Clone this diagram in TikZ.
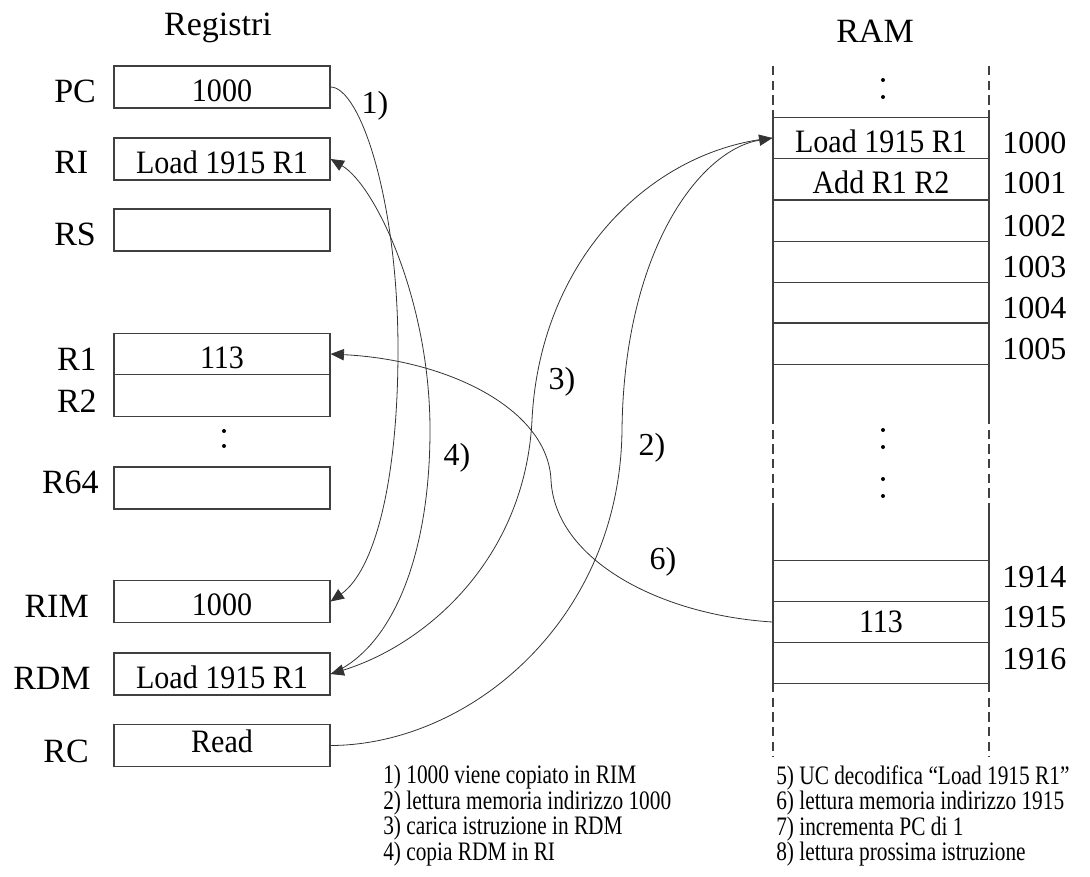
\documentclass[tikz,border=0pt]{standalone}
\usepackage{fontspec}
\setmainfont{Liberation Serif}
\newfontfamily\boxfont{Liberation Serif}[FakeStretch=0.92]
\newfontfamily\notefont{Liberation Serif}[FakeStretch=0.8]
\usetikzlibrary{arrows.meta}

\tikzset{
  reg/.style={draw=black!75, line width=0.9pt, minimum width=162pt, minimum height=31.5pt,
    inner sep=0pt, text height=21pt, text depth=0pt, font=\boxfont\fontsize{24.5}{26}\selectfont},
  cell/.style={reg, minimum height=31pt},
  reglbl/.style={inner sep=0pt, font=\fontsize{25.5}{28}\selectfont},
  numlbl/.style={inner sep=0pt, font=\fontsize{24}{26}\selectfont},
  notes/.style={inner sep=0pt, align=left, font=\notefont\fontsize{20}{18}\selectfont},
  flow/.style={draw=black!80, line width=0.6pt},
  arr/.style={flow, -{Triangle[length=10pt,width=8.5pt]}},
  ramline/.style={draw=black!75, line width=0.9pt},
  ramdash/.style={ramline, dash pattern=on 7pt off 4pt},
  dot/.style={fill=black, circle, inner sep=0pt, minimum size=3pt},
}

\begin{document}
\begin{tikzpicture}[x=0.75pt, y=-0.75pt]
\useasboundingbox (0,0) rectangle (1090,876);

% titles
\node[reglbl, anchor=base] (titleReg) at (218,35) {Registri};
\node[reglbl, anchor=base] (titleRam) at (875,42) {RAM};

% registers
\path
(222,87)    node[reg] (PC)  {1000}
(222,159)   node[reg] (RI)  {Load 1915 R1}
(222,230)   node[reg] (RS)  {}
(222,354)   node[reg, minimum height=31pt] (R1) {113}
(222,395.5) node[reg, minimum height=31pt] (R2) {}
(222,488)   node[reg] (R64) {}
(222,601.5) node[reg] (RIM) {1000}
(222,674)   node[reg] (RDM) {Load 1915 R1}
(222,745.5) node[reg, text height=10pt] (RC) {Read};

\node[reglbl, anchor=base west] (lPC)  at (54,102)  {PC};
\node[reglbl, anchor=base west] (lRI)  at (54,173)  {RI};
\node[reglbl, anchor=base west] (lRS)  at (54,245)  {RS};
\node[reglbl, anchor=base east] (lR1)  at (97,370)  {R1};
\node[reglbl, anchor=base east] (lR2)  at (97,412)  {R2};
\node[reglbl, anchor=base east] (lR64) at (99,493)  {R64};
\node[reglbl, anchor=base east] (lRIM) at (89,617)  {RIM};
\node[reglbl, anchor=base east] (lRDM) at (91,689)  {RDM};
\node[reglbl, anchor=base east] (lRC)  at (89,762)  {RC};

\node[dot] (rd1) at (224,431) {};
\node[dot] (rd2) at (224,446) {};

% RAM cells
\path
(881,138)   node[cell] (m1000) {Load 1915 R1}
(881,179.5) node[cell] (m1001) {Add R1 R2}
(881,220.5) node[cell] (m1002) {}
(881,262)   node[cell] (m1003) {}
(881,303)   node[cell] (m1004) {}
(881,343.5) node[cell] (m1005) {}
(881,581)   node[cell] (m1914) {}
(881,622)   node[cell, text height=15pt] (m1915) {113}
(881,663)   node[cell] (m1916) {};

\foreach \x in {773,989}{
  \draw[ramdash] (\x,66) -- (\x,117);
  \draw[ramline] (\x,364) -- (\x,415);
  \draw[ramdash] (\x,415) -- (\x,508);
  \draw[ramline] (\x,508) -- (\x,561);
  \draw[ramdash] (\x,683) -- (\x,757);
}

\node[dot] (td1) at (883,80) {};
\node[dot] (td2) at (883,97) {};
\node[dot] (md1) at (883,430) {};
\node[dot] (md2) at (883,447) {};
\node[dot] (md3) at (883,479) {};
\node[dot] (md4) at (883,496) {};

% addresses
\foreach \a/\y in {1000/153,1001/193,1002/236,1003/277,1004/318,1005/359,1914/587,1915/627,1916/669}
  \node[numlbl, anchor=base west] (a\a) at (1002,\y) {\a};

% data flow
\draw[arr] (PC.east) .. controls (360,87) and (398,200) .. (398,350)
  .. controls (398,480) and (375,570) .. (RIM.east);
\draw[arr] (RC.east) .. controls (470,745) and (620,620) .. (622,430)
  .. controls (624,250) and (700,150) .. (m1000.west);
\draw[arr] (m1000.west) .. controls (650,150) and (540,260) .. (532,420)
  .. controls (525,560) and (425,645) .. (RDM.east);
\draw[arr] (RDM.east) .. controls (390,650) and (430,560) .. (430,430)
  .. controls (430,300) and (375,185) .. (RI.east);
\draw[arr] (m1915.west) .. controls (660,615) and (555,560) .. (551,480)
  .. controls (548,410) and (450,360) .. (R1.east);

% step numbers
\node[numlbl] (s1) at (375,106) {1)};
\node[numlbl] (s2) at (652,448) {2)};
\node[numlbl] (s3) at (562,382) {3)};
\node[numlbl] (s4) at (457,458) {4)};
\node[numlbl] (s6) at (663,562) {6)};

% legend
\node[notes, anchor=north west] (notesL) at (383,765)
  {1) 1000 viene copiato in RIM\\2) lettura memoria indirizzo 1000\\3) carica istruzione in RDM\\4) copia RDM in RI};
\node[notes, anchor=north west] (notesR) at (776,765)
  {5) UC decodifica “Load 1915 R1”\\6) lettura memoria indirizzo 1915\\7) incrementa PC di 1\\8) lettura prossima istruzione};

\end{tikzpicture}
\end{document}
